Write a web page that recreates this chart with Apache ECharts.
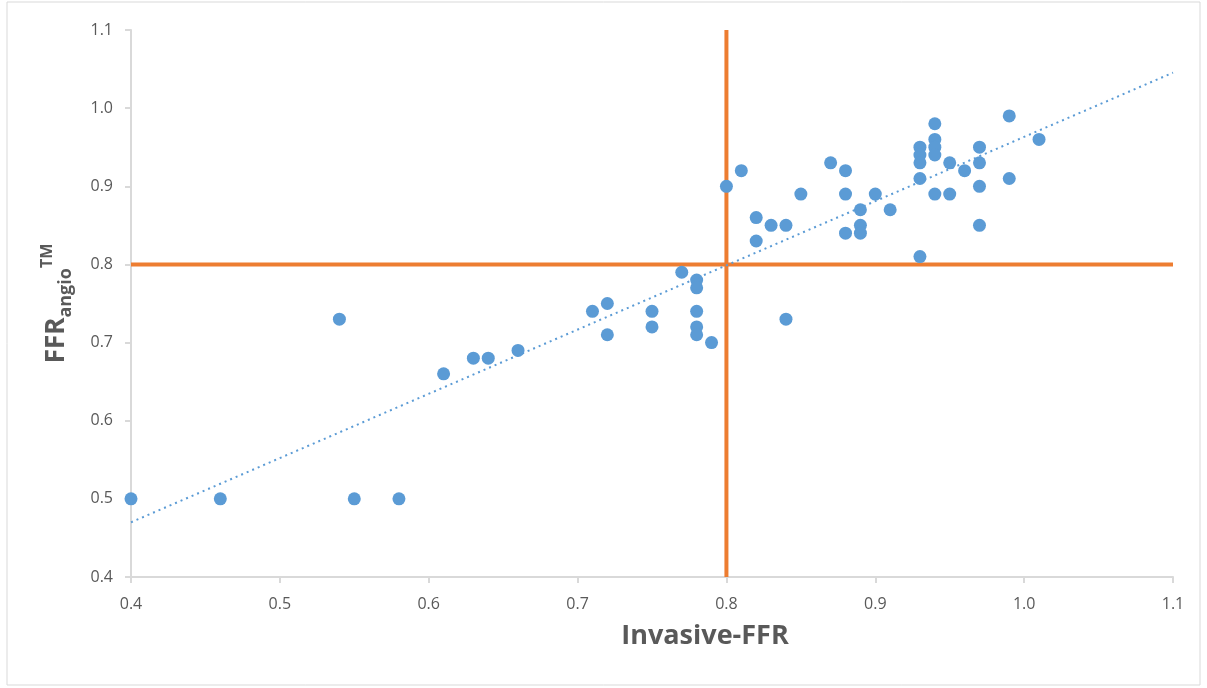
<!DOCTYPE html>
<html>
<head>
<meta charset="utf-8">
<script src="https://cdn.jsdelivr.net/npm/echarts@6/dist/echarts.min.js"></script>
<style>
  html, body { margin: 0; padding: 0; background: #fff; }
  #chart { width: 1207px; height: 688px; }
</style>
</head>
<body>
<div id="chart"></div>
<script>
// invasive FFR (x) vs FFRangio (y)
var invasiveFFR = [
  0.40, 0.46, 0.54, 0.55, 0.58, 0.61, 0.63, 0.64, 0.66, 0.71, 0.72, 0.72,
  0.75, 0.75, 0.77, 0.78, 0.78, 0.78, 0.78, 0.78, 0.79, 0.84,
  0.80, 0.81, 0.82, 0.82, 0.83, 0.84, 0.85, 0.87, 0.88, 0.88, 0.88,
  0.89, 0.89, 0.89, 0.90, 0.91, 0.93, 0.93, 0.93, 0.93, 0.93,
  0.94, 0.94, 0.94, 0.94, 0.94, 0.95, 0.95, 0.96, 0.97, 0.97, 0.97, 0.97,
  0.99, 0.99, 1.01
];
var ffrAngio = [
  0.50, 0.50, 0.73, 0.50, 0.50, 0.66, 0.68, 0.68, 0.69, 0.74, 0.75, 0.71,
  0.74, 0.72, 0.79, 0.78, 0.77, 0.74, 0.72, 0.71, 0.70, 0.73,
  0.90, 0.92, 0.86, 0.83, 0.85, 0.85, 0.89, 0.93, 0.92, 0.89, 0.84,
  0.87, 0.85, 0.84, 0.89, 0.87, 0.95, 0.94, 0.93, 0.91, 0.81,
  0.98, 0.96, 0.95, 0.94, 0.89, 0.93, 0.89, 0.92, 0.95, 0.93, 0.90, 0.85,
  0.99, 0.91, 0.96
];
var cutoff = 0.8;
var axisMin = 0.4, axisMax = 1.1, axisStep = 0.1;

var points = invasiveFFR.map(function (x, i) { return [x, ffrAngio[i]]; });

// least-squares trend line like Excel's linear trendline
function linearFit(xs, ys) {
  var n = xs.length, sx = 0, sy = 0, sxx = 0, sxy = 0;
  for (var i = 0; i < n; i++) {
    sx += xs[i]; sy += ys[i]; sxx += xs[i] * xs[i]; sxy += xs[i] * ys[i];
  }
  var b = (n * sxy - sx * sy) / (n * sxx - sx * sx);
  var a = (sy - b * sx) / n;
  return function (x) { return a + b * x; };
}
var fit = linearFit(invasiveFFR, ffrAngio);
var trend = [[axisMin, fit(axisMin)], [axisMax, fit(axisMax)]];

var myChart = echarts.init(document.getElementById('chart'));
var labelColor = '#595959';
var font = 'Open Sans';

var option = {
  animation: false,
  graphic: [{
    type: 'rect',
    shape: { x: 7, y: 2, width: 1193, height: 683 },
    style: { fill: 'none', stroke: '#d9d9d9', lineWidth: 1 },
    silent: true
  }],
  grid: { left: 131, right: 34, top: 30, bottom: 111 },
  xAxis: {
    type: 'value',
    min: axisMin, max: axisMax, interval: axisStep,
    name: 'Invasive-FFR',
    nameLocation: 'middle',
    nameGap: 46,
    nameTextStyle: { color: labelColor, fontSize: 27, fontWeight: 'bold', fontFamily: font,
      padding: [0, 0, 0, 106] },
    axisLine: { lineStyle: { color: '#d9d9d9', width: 2 } },
    axisTick: { show: true, length: 6, lineStyle: { color: '#d9d9d9', width: 2 } },
    axisLabel: { color: labelColor, fontSize: 16, margin: 19, fontFamily: font,
      formatter: function (v) { return v.toFixed(1); } },
    splitLine: { show: false }
  },
  yAxis: {
    type: 'value',
    min: axisMin, max: axisMax, interval: axisStep,
    name: '{a|FFR}{b|angio}{c|TM}',
    nameLocation: 'middle',
    nameGap: 56,
    nameRotate: 90,
    nameTextStyle: {
      color: labelColor, fontWeight: 'bold', fontFamily: font,
      rich: {
        a: { fontSize: 26, fontWeight: 'bold', color: labelColor, fontFamily: font, lineHeight: 36, verticalAlign: 'middle' },
        b: { fontSize: 18, fontWeight: 'bold', color: labelColor, fontFamily: font, lineHeight: 36, verticalAlign: 'bottom' },
        c: { fontSize: 16, fontWeight: 'bold', color: labelColor, fontFamily: font, lineHeight: 36, verticalAlign: 'top' }
      }
    },
    axisLine: { show: true, lineStyle: { color: '#d9d9d9', width: 2 } },
    axisTick: { show: true, length: 6, lineStyle: { color: '#d9d9d9', width: 2 } },
    axisLabel: { color: labelColor, fontSize: 16, margin: 18, fontFamily: font,
      formatter: function (v) { return v.toFixed(1); } },
    splitLine: { show: false }
  },
  series: [
    {
      type: 'line',
      data: [[cutoff, axisMin], [cutoff, axisMax]],
      symbol: 'none',
      lineStyle: { color: '#ED7D31', width: 4 },
      z: 1, silent: true
    },
    {
      type: 'line',
      data: [[axisMin, cutoff], [axisMax, cutoff]],
      symbol: 'none',
      lineStyle: { color: '#ED7D31', width: 4 },
      z: 1, silent: true
    },
    {
      type: 'line',
      data: trend,
      symbol: 'none',
      lineStyle: { color: '#5B9BD5', width: 2, type: [2, 4] },
      z: 3, silent: true
    },
    {
      type: 'scatter',
      data: points,
      symbolSize: 13,
      itemStyle: { color: '#5B9BD5', opacity: 1 },
      z: 2
    }
  ]
};
myChart.setOption(option);
</script>
</body>
</html>
